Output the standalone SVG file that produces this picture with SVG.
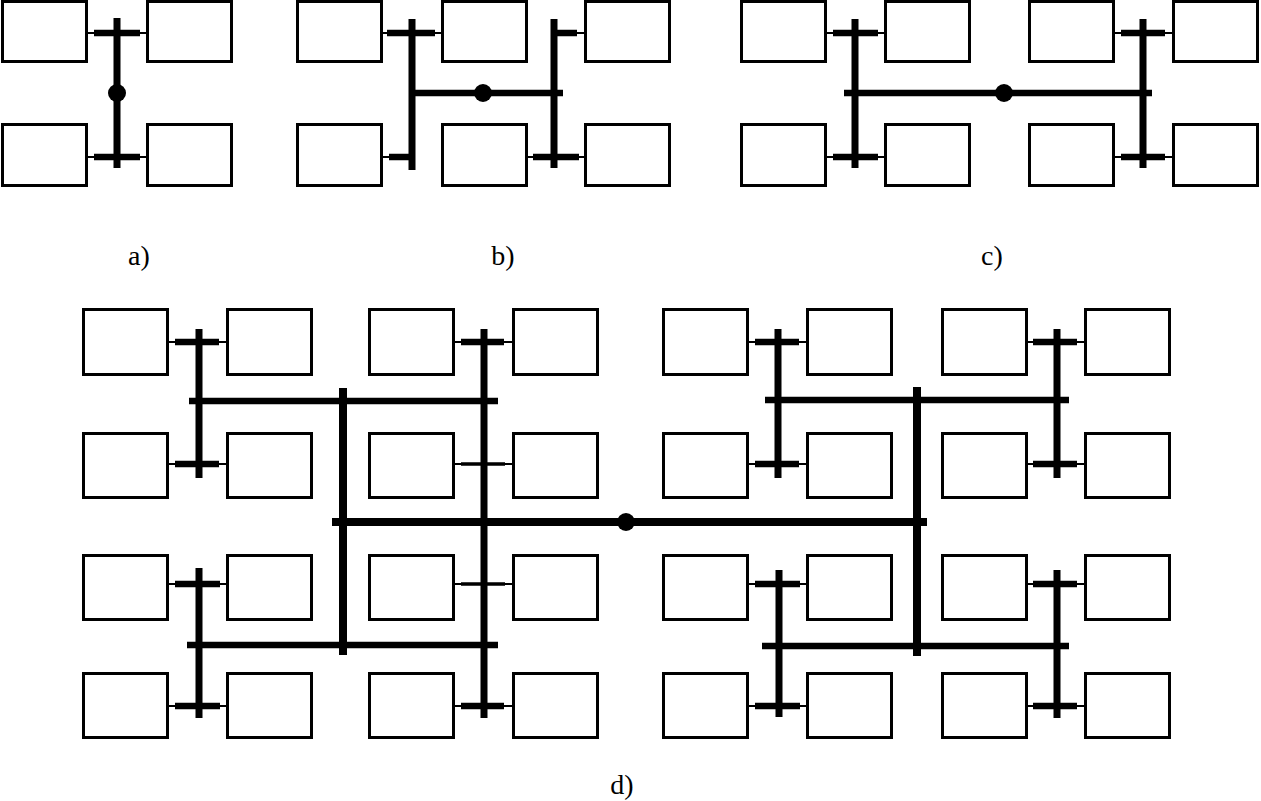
<svg xmlns="http://www.w3.org/2000/svg" width="1261" height="801" viewBox="0 0 1261 801">
<style>
.box{fill:#fff;stroke:#000;stroke-width:3}
.thin{stroke:#000;stroke-width:1.8;fill:none}
.stub{stroke:#000;stroke-width:6.5;fill:none}
.stubm{stroke:#000;stroke-width:3.5;fill:none}
.bus{stroke:#000;stroke-width:7;fill:none}
.hbus{stroke:#000;stroke-width:6.5;fill:none}
.mbus{stroke:#000;stroke-width:8;fill:none}
.dot{fill:#000}
.lbl{font-family:"Liberation Serif","Times New Roman",serif;font-size:28px;fill:#000;text-anchor:middle}
</style>
<rect width="1261" height="801" fill="#fff"/>
<g id="panel-a">
<g id="a-n1"><rect class="box" x="2.5" y="1.5" width="84" height="60"/></g>
<g id="a-n2"><rect class="box" x="147.5" y="1.5" width="84" height="60"/></g>
<g id="a-n3"><rect class="box" x="2.5" y="124.5" width="84" height="61"/></g>
<g id="a-n4"><rect class="box" x="147.5" y="124.5" width="84" height="61"/></g>
</g>
<g id="panel-b">
<g id="b-n1"><rect class="box" x="297.5" y="1.5" width="84" height="60"/></g>
<g id="b-n2"><rect class="box" x="442.5" y="1.5" width="84" height="60"/></g>
<g id="b-n3"><rect class="box" x="585.5" y="1.5" width="84" height="60"/></g>
<g id="b-n4"><rect class="box" x="297.5" y="124.5" width="84" height="61"/></g>
<g id="b-n5"><rect class="box" x="442.5" y="124.5" width="84" height="61"/></g>
<g id="b-n6"><rect class="box" x="585.5" y="124.5" width="84" height="61"/></g>
</g>
<g id="panel-c">
<g id="c-n1"><rect class="box" x="741.5" y="1.5" width="84" height="60"/></g>
<g id="c-n2"><rect class="box" x="885.5" y="1.5" width="84" height="60"/></g>
<g id="c-n3"><rect class="box" x="1029.5" y="1.5" width="84" height="60"/></g>
<g id="c-n4"><rect class="box" x="1173.5" y="1.5" width="84" height="60"/></g>
<g id="c-n5"><rect class="box" x="741.5" y="124.5" width="84" height="61"/></g>
<g id="c-n6"><rect class="box" x="885.5" y="124.5" width="84" height="61"/></g>
<g id="c-n7"><rect class="box" x="1029.5" y="124.5" width="84" height="61"/></g>
<g id="c-n8"><rect class="box" x="1173.5" y="124.5" width="84" height="61"/></g>
</g>
<g id="panel-d">
<g id="d-r1c1"><rect class="box" x="83.5" y="309.5" width="84" height="65"/></g>
<g id="d-r1c2"><rect class="box" x="227.5" y="309.5" width="84" height="65"/></g>
<g id="d-r1c3"><rect class="box" x="369.5" y="309.5" width="84" height="65"/></g>
<g id="d-r1c4"><rect class="box" x="513.5" y="309.5" width="84" height="65"/></g>
<g id="d-r1c5"><rect class="box" x="663.5" y="309.5" width="84" height="65"/></g>
<g id="d-r1c6"><rect class="box" x="807.5" y="309.5" width="84" height="65"/></g>
<g id="d-r1c7"><rect class="box" x="942.5" y="309.5" width="84" height="65"/></g>
<g id="d-r1c8"><rect class="box" x="1085.5" y="309.5" width="84" height="65"/></g>
<g id="d-r2c1"><rect class="box" x="83.5" y="433.5" width="84" height="64"/></g>
<g id="d-r2c2"><rect class="box" x="227.5" y="433.5" width="84" height="64"/></g>
<g id="d-r2c3"><rect class="box" x="369.5" y="433.5" width="84" height="64"/></g>
<g id="d-r2c4"><rect class="box" x="513.5" y="433.5" width="84" height="64"/></g>
<g id="d-r2c5"><rect class="box" x="663.5" y="433.5" width="84" height="64"/></g>
<g id="d-r2c6"><rect class="box" x="807.5" y="433.5" width="84" height="64"/></g>
<g id="d-r2c7"><rect class="box" x="942.5" y="433.5" width="84" height="64"/></g>
<g id="d-r2c8"><rect class="box" x="1085.5" y="433.5" width="84" height="64"/></g>
<g id="d-r3c1"><rect class="box" x="83.5" y="555.5" width="84" height="64"/></g>
<g id="d-r3c2"><rect class="box" x="227.5" y="555.5" width="84" height="64"/></g>
<g id="d-r3c3"><rect class="box" x="369.5" y="555.5" width="84" height="64"/></g>
<g id="d-r3c4"><rect class="box" x="513.5" y="555.5" width="84" height="64"/></g>
<g id="d-r3c5"><rect class="box" x="663.5" y="555.5" width="84" height="64"/></g>
<g id="d-r3c6"><rect class="box" x="807.5" y="555.5" width="84" height="64"/></g>
<g id="d-r3c7"><rect class="box" x="942.5" y="555.5" width="84" height="64"/></g>
<g id="d-r3c8"><rect class="box" x="1085.5" y="555.5" width="84" height="64"/></g>
<g id="d-r4c1"><rect class="box" x="83.5" y="673.5" width="84" height="64"/></g>
<g id="d-r4c2"><rect class="box" x="227.5" y="673.5" width="84" height="64"/></g>
<g id="d-r4c3"><rect class="box" x="369.5" y="673.5" width="84" height="64"/></g>
<g id="d-r4c4"><rect class="box" x="513.5" y="673.5" width="84" height="64"/></g>
<g id="d-r4c5"><rect class="box" x="663.5" y="673.5" width="84" height="64"/></g>
<g id="d-r4c6"><rect class="box" x="807.5" y="673.5" width="84" height="64"/></g>
<g id="d-r4c7"><rect class="box" x="942.5" y="673.5" width="84" height="64"/></g>
<g id="d-r4c8"><rect class="box" x="1085.5" y="673.5" width="84" height="64"/></g>
</g>
<g id="connectors">
<!-- panel a -->
<path class="thin" d="M87 33H147M87 157H147"/>
<path class="stub" d="M94 33H140M94 157H140"/>
<path class="bus" d="M117 18V168"/>
<circle class="dot" cx="117" cy="93" r="9"/>
<!-- panel b -->
<path class="thin" d="M382 33H442M382 157H412M554 33H585M526 157H585"/>
<path class="stub" d="M387 33H435M389 157H412M554 33H577M533 157H579"/>
<path class="bus" d="M412 19V170M554 19V168"/>
<path class="hbus" d="M412 93H563"/>
<circle class="dot" cx="483" cy="93" r="9"/>
<!-- panel c -->
<path class="thin" d="M826 33H886M826 157H886M1114 33H1174M1114 157H1174"/>
<path class="stub" d="M833 33H878M833 157H878M1121 33H1165M1121 157H1165"/>
<path class="bus" d="M855 19V168M1143 19V168"/>
<path class="hbus" d="M844 93H1152"/>
<circle class="dot" cx="1004" cy="93" r="9"/>
<!-- panel d thin links -->
<path class="thin" d="M168 342H228M168 464H228M168 584H228M168 706H228M454 342H514M454 464H514M454 584H514M454 706H514M748 342H808M748 464H808M748 584H808M748 706H808M1027 342H1086M1027 464H1086M1027 584H1086M1027 706H1086"/>
<path class="stub" d="M175 342H219M175 464H219M175 584H220M175 706H220M461 342H504M461 706H504M755 342H799M755 464H799M755 584H800M755 706H800M1033 342H1077M1033 464H1077M1033 584H1077M1033 706H1077"/>
<path class="stubm" d="M461 464H505M461 584H505"/>
<path class="bus" d="M199 329V478M199 568V718M484 329V718M778 329V478M779 570V717M1057 329V478M1057 570V718"/>
<path class="hbus" d="M189 401H498M187 645H498M765 400H1069M762 646H1069"/>
<path class="mbus" d="M343 388V655M917 387V656M332 522H927"/>
<circle class="dot" cx="626" cy="522" r="9"/>
</g>
<g id="labels">
<text class="lbl" x="139" y="265">a)</text>
<text class="lbl" x="503" y="265">b)</text>
<text class="lbl" x="992" y="265">c)</text>
<text class="lbl" x="622" y="794">d)</text>
</g>
</svg>
